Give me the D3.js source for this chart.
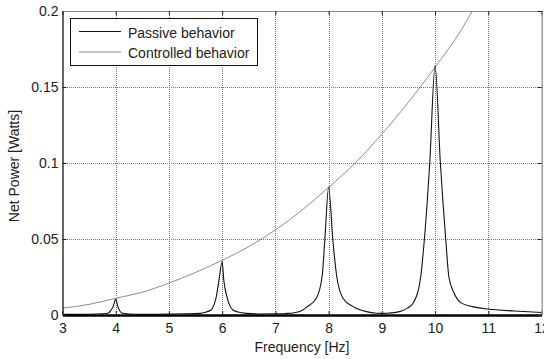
<!DOCTYPE html>
<html>
<head>
<meta charset="utf-8">
<script src="https://cdn.jsdelivr.net/npm/d3@7"></script>
<style>
  body { margin: 0; background: #fff; }
  svg text { font-family: "Liberation Sans", Arial, sans-serif; }
</style>
</head>
<body>
<div id="chart"></div>
<script>
// Passive behavior: resonance peaks
const passiveFreq  = [3.00, 3.50, 3.75, 3.85, 3.90, 3.95, 4.00, 4.04, 4.08, 4.13, 4.25, 4.50,
                      5.00, 5.30, 5.58, 5.70, 5.79, 5.85, 5.89, 5.94, 6.00, 6.03, 6.09, 6.14, 6.20, 6.30, 6.45, 6.70,
                      7.00, 7.20, 7.36, 7.50, 7.60, 7.77, 7.88, 7.93, 8.00, 8.08, 8.15, 8.27, 8.46, 8.71, 8.90,
                      9.00, 9.10, 9.33, 9.48, 9.59, 9.73, 9.80, 9.90, 10.00, 10.10, 10.20, 10.26, 10.35, 10.49, 10.70,
                      11.00, 11.50, 12.00];
const passivePower = [0.0004, 0.0005, 0.0008, 0.0011, 0.0025, 0.0055, 0.0103, 0.0055, 0.0025, 0.0011, 0.0007, 0.0005,
                      0.0006, 0.0008, 0.0011, 0.0020, 0.0033, 0.0070, 0.0120, 0.0230, 0.0350, 0.0230, 0.0120, 0.0065, 0.0033, 0.0020, 0.0011, 0.0007,
                      0.0008, 0.0010, 0.0015, 0.0030, 0.0055, 0.0110, 0.0260, 0.0500, 0.0840, 0.0490, 0.0260, 0.0110, 0.0055, 0.0022, 0.0012,
                      0.0011, 0.0012, 0.0022, 0.0045, 0.0079, 0.0250, 0.0500, 0.1000, 0.1640, 0.1000, 0.0500, 0.0250, 0.0150, 0.0080, 0.0055,
                      0.0039, 0.0026, 0.0016];

// Controlled behavior: smooth rising curve
const controlledFreq  = [3.0, 3.5, 4.0, 4.5, 5.0, 5.5, 6.0, 6.5, 7.0, 7.5, 8.0, 8.5, 9.0, 9.5, 10.0, 10.5, 10.7];
const controlledPower = [0.0045, 0.0070, 0.0110, 0.0150, 0.0210, 0.0280, 0.0360, 0.0450, 0.0560, 0.0690, 0.0840, 0.1000, 0.1190, 0.1400, 0.1630, 0.1880, 0.2000];

// Ticks and labels
const xTicks = [3, 4, 5, 6, 7, 8, 9, 10, 11, 12];
const yTicks = [0, 0.05, 0.1, 0.15, 0.2];
const legendLabels = ["Passive behavior", "Controlled behavior"];

function drawChart(container) {
    const width = 544, height = 359;
    const left = 62.5, right = 541.5, top = 11, bottom = 315;

    let svg = container.append("svg")
        .attr("width", width)
        .attr("height", height);

    svg.append("rect").attr("width", width).attr("height", height).attr("fill", "#fff");

    let x = d3.scaleLinear().domain([3, 12]).range([left, right]);
    let y = d3.scaleLinear().domain([0, 0.2]).range([bottom, top]);

    // dotted grid
    let grid = svg.append("g").attr("stroke", "#7a7a7a").attr("stroke-width", 1)
        .attr("stroke-dasharray", "1,1").attr("shape-rendering", "crispEdges");
    grid.selectAll(".gx").data(xTicks.slice(1))
        .enter().append("line")
        .attr("x1", d => Math.round(x(d)) + 0.5).attr("x2", d => Math.round(x(d)) + 0.5)
        .attr("y1", top).attr("y2", bottom);
    grid.selectAll(".gy").data(yTicks.slice(1))
        .enter().append("line")
        .attr("x1", left).attr("x2", right)
        .attr("y1", d => Math.round(y(d)) + 0.5).attr("y2", d => Math.round(y(d)) + 0.5);

    // clip for the data lines
    svg.append("clipPath").attr("id", "plotclip")
        .append("rect").attr("x", left).attr("y", top).attr("width", right - left).attr("height", bottom - top + 2);

    let line = d3.line()
        .x(d => x(d[0]))
        .y(d => y(d[1]))
        .curve(d3.curveMonotoneX);

    let plot = svg.append("g").attr("clip-path", "url(#plotclip)");

    plot.append("path")
        .datum(d3.zip(controlledFreq, controlledPower))
        .attr("fill", "none")
        .attr("stroke", "#8c8c8c")
        .attr("stroke-width", 1)
        .attr("d", line);

    plot.append("path")
        .datum(d3.zip(passiveFreq, passivePower))
        .attr("fill", "none")
        .attr("stroke", "#111")
        .attr("stroke-width", 1.1)
        .attr("d", line);

    // axes, ticks pointing inward
    let xAxis = svg.append("g")
        .attr("transform", `translate(0,${bottom})`)
        .call(d3.axisBottom(x).tickValues(xTicks).tickFormat(d3.format("d"))
            .tickSize(-4).tickSizeOuter(0).tickPadding(8));
    xAxis.select(".domain").attr("stroke", "#000").attr("stroke-width", 2.5);

    let yAxis = svg.append("g")
        .attr("transform", `translate(${left},0)`)
        .call(d3.axisLeft(y).tickValues(yTicks).tickFormat(d => d === 0 ? "0" : String(d))
            .tickSize(-4).tickSizeOuter(0).tickPadding(4));
    yAxis.select(".domain").attr("stroke", "#333").attr("stroke-width", 1.5);

    svg.append("g")
        .attr("transform", `translate(0,${top})`)
        .call(d3.axisTop(x).tickValues(xTicks).tickFormat("").tickSize(-4).tickSizeOuter(0))
        .select(".domain").attr("stroke", "#8a8a8a");

    svg.append("g")
        .attr("transform", `translate(${right},0)`)
        .call(d3.axisRight(y).tickValues(yTicks).tickFormat("").tickSize(-4).tickSizeOuter(0))
        .select(".domain").attr("stroke", "#8a8a8a");

    svg.selectAll(".tick line").attr("stroke", "#222");
    svg.selectAll(".tick text").attr("font-size", 14).attr("fill", "#222")
        .attr("font-family", "Liberation Sans, Arial, sans-serif");

    // axis titles
    svg.append("text")
        .attr("x", (left + right) / 2).attr("y", 352)
        .attr("text-anchor", "middle")
        .attr("font-size", 14).attr("fill", "#222")
        .text("Frequency [Hz]");

    svg.append("text")
        .attr("transform", `translate(19,${(top + bottom) / 2 + 3}) rotate(-90)`)
        .attr("text-anchor", "middle")
        .attr("font-size", 14).attr("fill", "#222")
        .text("Net Power [Watts]");

    // legend
    let legend = svg.append("g");
    legend.append("rect")
        .attr("x", 70.5).attr("y", 18.5).attr("width", 187).attr("height", 47)
        .attr("fill", "#fff").attr("stroke", "#111").attr("stroke-width", 1);
    let colors = ["#111", "#8c8c8c"];
    legend.selectAll(".item").data(legendLabels)
        .enter().append("g")
        .attr("transform", (d, i) => `translate(0,${31 + i * 20.5})`)
        .each(function(d, i) {
            let g = d3.select(this);
            g.append("line").attr("x1", 79).attr("x2", 121).attr("y1", 0.5).attr("y2", 0.5)
                .attr("stroke", colors[i]).attr("stroke-width", 1);
            g.append("text").attr("x", 128).attr("y", 6.5)
                .attr("font-size", 14).attr("fill", "#222").text(d);
        });
}

drawChart(d3.select("#chart"));
</script>
</body>
</html>
